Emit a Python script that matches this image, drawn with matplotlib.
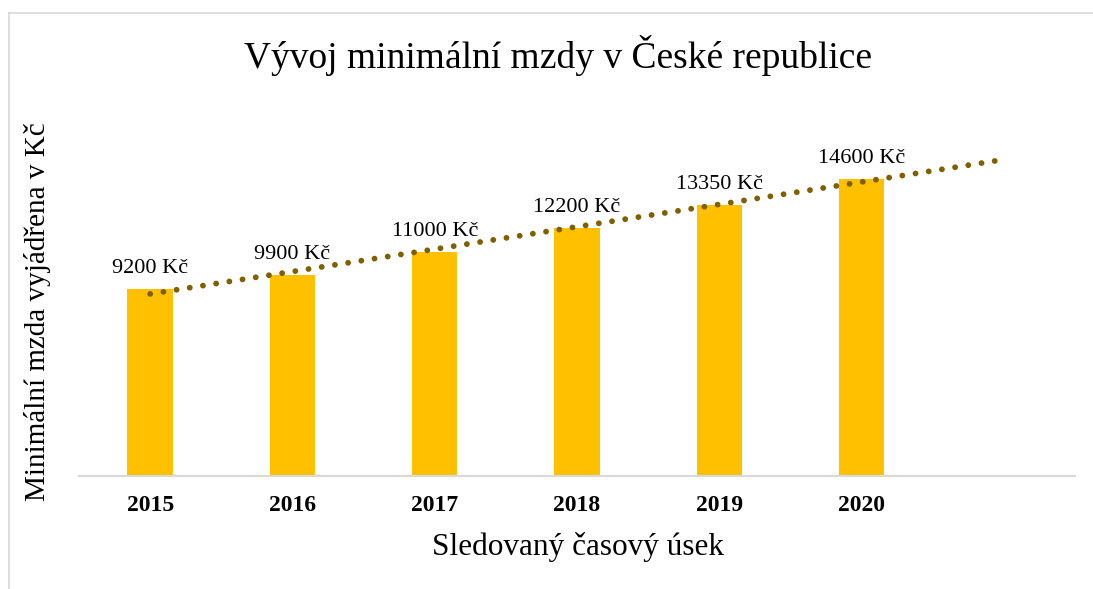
import numpy as np
import matplotlib.pyplot as plt
from matplotlib.lines import Line2D

years = ['2015', '2016', '2017', '2018', '2019', '2020']
wages = [9200, 9900, 11000, 12200, 13350, 14600]
value_labels = ['9200 Kč', '9900 Kč', '11000 Kč', '12200 Kč', '13350 Kč', '14600 Kč']

plt.rcParams['font.family'] = ['Liberation Serif', 'DejaVu Serif']

fig = plt.figure(figsize=(10.93, 5.89), dpi=100)
ax = fig.add_axes([79 / 1093, 1 - 476 / 589, (1075 - 79) / 1093, (476 - 150.7) / 589])

x = np.arange(len(years))
bars = ax.bar(x, wages, width=0.32, color='#FFC000', zorder=2)

# linear trendline, forecast one period forward (like Excel)
slope, intercept = np.polyfit(x + 1, wages, 1)
xt = np.array([0, len(years)])
ax.plot(xt, slope * (xt + 1) + intercept, color='#7F6000', linewidth=4.2,
        linestyle=(0, (0.01, 2.28)), dash_capstyle='round', zorder=3)

for bar, lab in zip(bars, value_labels):
    ax.annotate(lab, (bar.get_x() + bar.get_width() / 2, bar.get_height()),
                xytext=(0, 11.5), textcoords='offset points',
                ha='center', va='baseline', fontsize=16, color='black')

ax.set_xlim(-0.5, len(years) + 0.5)
ax.set_ylim(0, 16000)
ax.set_xticks(x)
ax.set_xticklabels(years, fontsize=17, fontweight='bold')
ax.tick_params(axis='x', length=0, pad=14)
ax.set_yticks([])
for s in ['top', 'right', 'left']:
    ax.spines[s].set_visible(False)
ax.spines['bottom'].set_color('#D9D9D9')
ax.spines['bottom'].set_linewidth(1.5)

fig.text(558 / 1093, 1 - 55 / 589, 'Vývoj minimální mzdy v České republice',
         ha='center', va='center', fontsize=27)
fig.text(578 / 1093, 1 - 547 / 589, 'Sledovaný časový úsek',
         ha='center', va='center', fontsize=22.5)
fig.text(38 / 1093, 1 - 312 / 589, 'Minimální mzda vyjádřena v Kč',
         ha='center', va='center', fontsize=21, rotation=90)

# chart area border (top and left edges visible)
fig.add_artist(Line2D([8.5 / 1093, 8.5 / 1093], [0, 1 - 12.5 / 589],
                      transform=fig.transFigure, color='#D9D9D9', lw=1.2))
fig.add_artist(Line2D([8.5 / 1093, 1], [1 - 12.5 / 589, 1 - 12.5 / 589],
                      transform=fig.transFigure, color='#D9D9D9', lw=1.2))

fig.savefig('out.png', dpi=100)
